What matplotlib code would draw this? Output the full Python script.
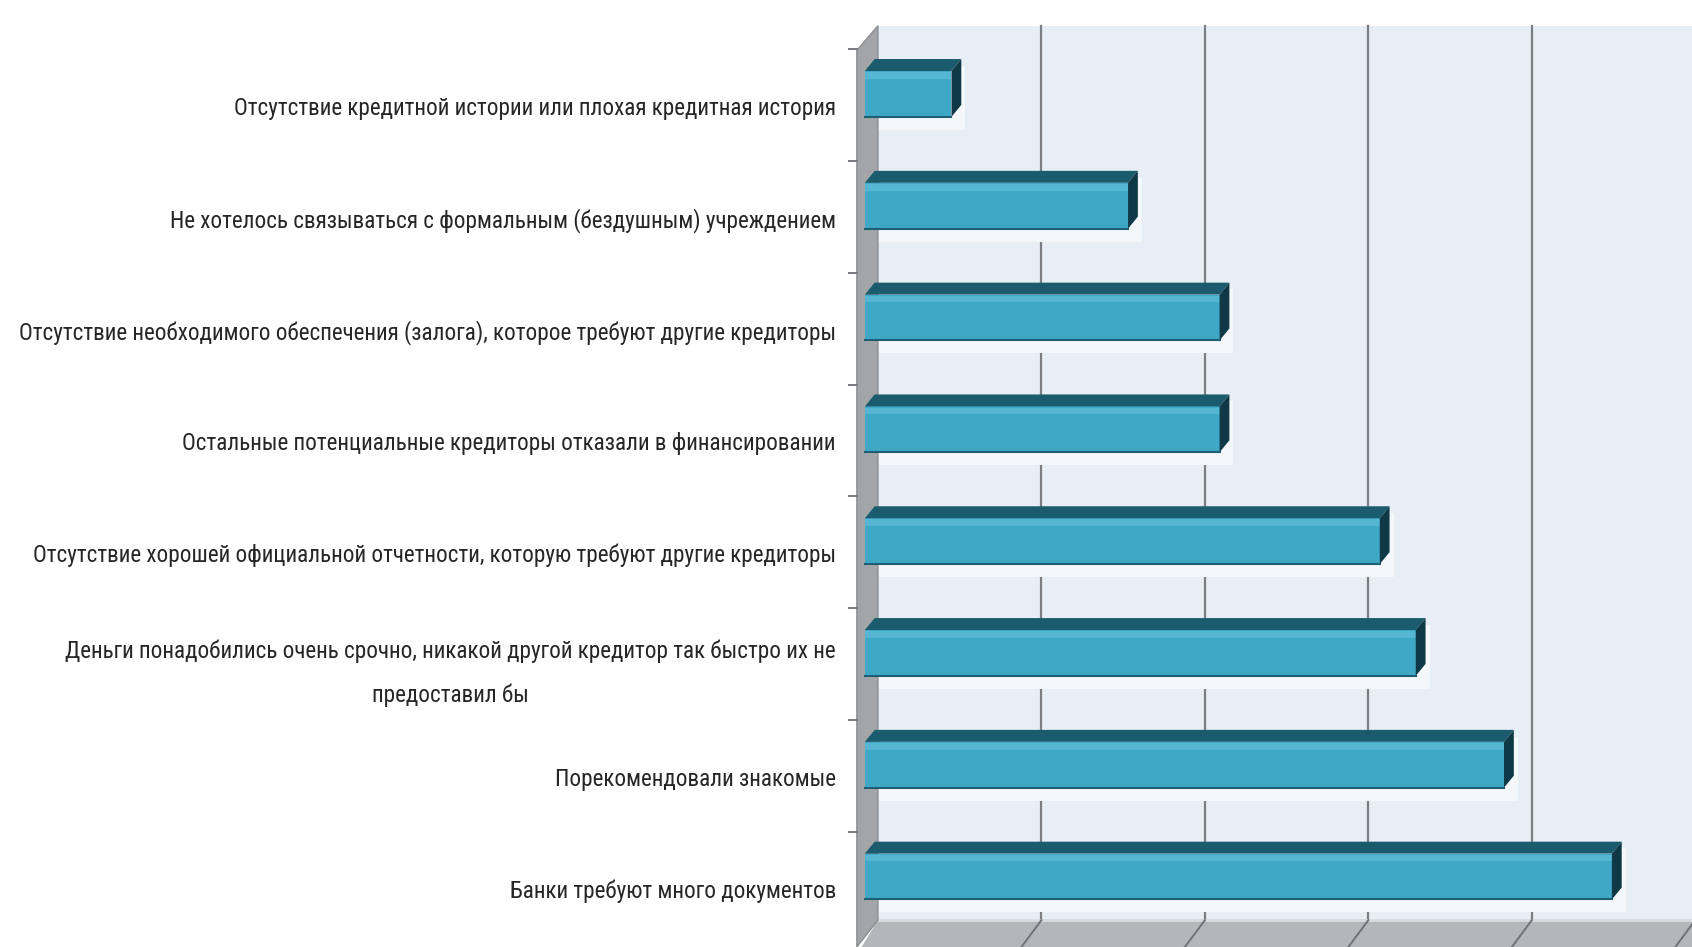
import matplotlib.pyplot as plt
from matplotlib import font_manager
from matplotlib.patches import Polygon, Rectangle

# Reasons for choosing this lender (values in %)
reasons = [
    'Отсутствие кредитной истории или плохая кредитная история',
    'Не хотелось связываться с формальным (бездушным) учреждением',
    'Отсутствие необходимого обеспечения (залога), которое требуют другие кредиторы',
    'Остальные потенциальные кредиторы отказали в финансировании',
    'Отсутствие хорошей официальной отчетности, которую требуют другие кредиторы',
    'Деньги понадобились очень срочно, никакой другой кредитор так быстро их не\nпредоставил бы',
    'Порекомендовали знакомые',
    'Банки требуют много документов',
]
shares = [5.1, 15.9, 21.5, 21.5, 31.3, 33.5, 38.9, 45.5]
grid_values = [10, 20, 30, 40]

available = {f.name for f in font_manager.fontManager.ttflist}
label_font = 'DejaVu Sans'
for name in ['Liberation Sans Narrow', 'DejaVu Sans Condensed', 'Roboto Condensed', 'Open Sans Condensed']:
    if name in available:
        label_font = name
        break

fig = plt.figure(figsize=(16.92, 9.47), dpi=100)
ax = fig.add_axes([840 / 1692, 0, (1692 - 840) / 1692, 1])
xmax = 49.8
ax.set_xlim(-2.32, xmax)
ax.set_ylim(7.63, -0.84)
ax.axis('off')

# 3d depth offsets in data units
dx = 0.6
dy = 0.107
h = 0.41
wall_top = -0.61
floor_y = 7.39

# back wall and grid
ax.add_patch(Rectangle((0, wall_top), xmax, floor_y - wall_top, facecolor='#e8eef5', edgecolor='none', zorder=0))
for g in grid_values:
    ax.plot([g, g], [wall_top, floor_y], color='#7b7f84', lw=1.6, zorder=1)

# left wall
ax.add_patch(Polygon([(-1.29, -0.39), (0, wall_top), (0, floor_y), (-1.29, 7.63)],
                     closed=True, facecolor='#a3a5a8', edgecolor='#8c8e91', lw=1, zorder=2))
for i in range(len(shares)):
    ax.plot([-1.75, -1.29], [i - 0.4, i - 0.4], color='#777a7e', lw=1.4, zorder=2, clip_on=False)

# floor
ax.add_patch(Polygon([(0, floor_y), (xmax + 2, floor_y), (xmax + 0.5, 7.7), (-1.29, 7.7)],
                     closed=True, facecolor='#b4b7ba', edgecolor='none', zorder=1))
ax.plot([0, xmax], [floor_y, floor_y], color='#d8dadc', lw=2, zorder=1)
for g in grid_values + [50]:
    ax.plot([g, g - 1.22], [floor_y, 7.63], color='#6f7378', lw=1.4, zorder=1.5)

# bars: soft glow, front face, top face, end cap
ypos = list(range(len(shares)))
ax.barh([y + 0.03 for y in ypos], shares, left=0, height=h + 0.1, color='#f4f8fb',
        edgecolor='#f4f8fb', lw=5, zorder=1.8)
ax.barh(ypos, [v + 0.2 for v in shares], left=-0.8, height=h, color='#3fa8c7', edgecolor='none', zorder=3)
ax.barh([y - h / 2 + 0.04 for y in ypos], [v + 0.2 for v in shares], left=-0.8, height=0.06,
        color='#55b7d4', edgecolor='none', zorder=3.1)
for y, v in zip(ypos, shares):
    top = y - h / 2
    ax.add_patch(Polygon([(-0.8, top), (v - dx, top), (v, top - dy), (-0.2, top - dy)],
                         closed=True, facecolor='#1a5b6e', edgecolor='none', zorder=3.2))
    ax.add_patch(Polygon([(v - dx, top), (v, top - dy), (v, top + h - dy), (v - dx, top + h)],
                         closed=True, facecolor='#0f3946', edgecolor='none', zorder=3.2))
    ax.plot([-0.8, v - dx], [top + h, top + h], color='#1d6074', lw=1.5, zorder=3.3)

# category labels
labels = []
for y, text in zip(ypos, reasons):
    labels.append(ax.text(-2.57, y + 0.13, text, ha='right', va='center', multialignment='center',
                          fontsize=17, color='#262626', family=[label_font, 'DejaVu Sans'],
                          linespacing=2.1, clip_on=False))

# fit the widest label to the width it has in the picture (about 817 px)
fig.canvas.draw()
renderer = fig.canvas.get_renderer()
widest = max(t.get_window_extent(renderer).width for t in labels)
for t in labels:
    t.set_fontsize(17 * 817 / widest)
labels[5].set_y(5 + 0.18)

fig.savefig('out.png', dpi=100)
